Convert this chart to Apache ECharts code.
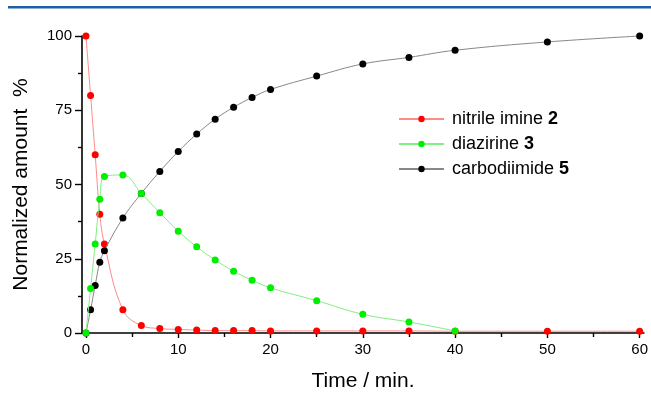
<!DOCTYPE html>
<html>
<head>
<meta charset="utf-8">
<script src="https://cdn.jsdelivr.net/npm/echarts@6/dist/echarts.min.js"></script>
<style>html,body{margin:0;padding:0;background:#fff;}#c{width:651px;height:397px;}</style>
</head>
<body>
<div id="c"></div>
<script>
const times = [0,0.5,1,1.5,2,4,6,8,10,12,14,16,18,20,25,30,35,40,50,60];
const greenTimes = [0,0.5,1,1.5,2,4,6,8,10,12,14,16,18,20,25,30,35,40];
const nitrileImine = [100,80,60,40,30,7.8,2.5,1.5,1.2,1.0,0.8,0.8,0.8,0.7,0.7,0.7,0.7,0.6,0.6,0.6];
const diazirine = [0,15,30,45,52.7,53.2,47,40.5,34.3,29,24.6,20.8,17.8,15.2,10.9,6.3,3.7,0.7];
const carbodiimide = [0,7.8,16,23.8,27.7,38.7,47,54.4,61.1,67,72,76,79.3,82,86.5,90.6,92.8,95.2,98,100];
const xTicks = [0,10,20,30,40,50,60];
const xMinorTicks = [5,15,25,35,45,55];
const names = ['nitrile imine 2','diazirine 3','carbodiimide 5'];

const FONT = 'Liberation Sans, Arial, sans-serif';
const pair = (xs, ys) => xs.map((x, i) => [x, ys[i]]);

const chart = echarts.init(document.getElementById('c'), null, {renderer: 'canvas'});
const axisLine = {show: true, onZero: false, lineStyle: {color: '#000', width: 1.6}};
const option = {
  animation: false,
  backgroundColor: '#fff',
  graphic: [{type: 'rect', shape: {x: 8, y: 6, width: 643, height: 2.6}, style: {fill: '#1f5fa6'}}],
  grid: {left: 82, right: 5, top: 36, bottom: 64},
  legend: {
    orient: 'vertical', left: 393, top: 105, itemWidth: 45, itemHeight: 8, itemGap: 7,
    data: names,
    formatter: function (n) { const i = n.lastIndexOf(' '); return '{a|' + n.slice(0, i + 1) + '}{b|' + n.slice(i + 1) + '}'; },
    textStyle: {fontFamily: FONT, fontSize: 18, color: '#000',
      rich: {a: {fontFamily: FONT, fontSize: 18, color: '#000', padding: [0,0,0,3]}, b: {fontFamily: FONT, fontSize: 18, fontWeight: 'bold', color: '#000'}}}
  },
  xAxis: [{
    type: 'value', min: -0.43, max: 60.46, position: 'bottom',
    name: 'Time / min.', nameLocation: 'middle', nameGap: 38,
    nameTextStyle: {fontFamily: FONT, fontSize: 21, color: '#000'},
    axisLine: axisLine,
    axisTick: {show: true, inside: false, length: 5, customValues: xTicks, lineStyle: {color: '#000', width: 1.4}},
    axisLabel: {customValues: xTicks, fontFamily: FONT, fontSize: 15, color: '#000', margin: 9},
    splitLine: {show: false}
  }, {
    type: 'value', min: -0.43, max: 60.46, position: 'bottom',
    axisLine: {show: false, onZero: false},
    axisTick: {show: true, inside: false, length: 4, customValues: xMinorTicks, lineStyle: {color: '#000', width: 1.4}},
    axisLabel: {show: false}, splitLine: {show: false}
  }],
  yAxis: {
    type: 'value', min: 0, max: 100, interval: 25,
    name: 'Normalized amount  %', nameLocation: 'middle', nameGap: 50,
    nameTextStyle: {fontFamily: FONT, fontSize: 21, color: '#000'},
    axisLine: axisLine,
    axisTick: {show: true, inside: false, length: 7, lineStyle: {color: '#000', width: 1.4}},
    minorTick: {show: true, splitNumber: 2, length: 4, lineStyle: {color: '#000', width: 1.4}},
    axisLabel: {fontFamily: FONT, fontSize: 15, color: '#000', margin: 10},
    splitLine: {show: false}
  },
  series: [
    {name: names[0], type: 'line', smooth: 0.4, clip: false, data: pair(times, nitrileImine),
     symbol: 'circle', symbolSize: 7, itemStyle: {color: '#ff0000'}, lineStyle: {color: '#ff8a8a', width: 1}, z: 2},
    {name: names[2], type: 'line', smooth: 0.4, clip: false, data: pair(times, carbodiimide),
     symbol: 'circle', symbolSize: 7, itemStyle: {color: '#000000'}, lineStyle: {color: '#888888', width: 1}, z: 3},
    {name: names[1], type: 'line', smooth: 0.4, clip: false, data: pair(greenTimes, diazirine),
     symbol: 'circle', symbolSize: 7, itemStyle: {color: '#00ee00'}, lineStyle: {color: '#80f080', width: 1}, z: 4}
  ]
};
chart.setOption(option);
</script>
</body>
</html>
